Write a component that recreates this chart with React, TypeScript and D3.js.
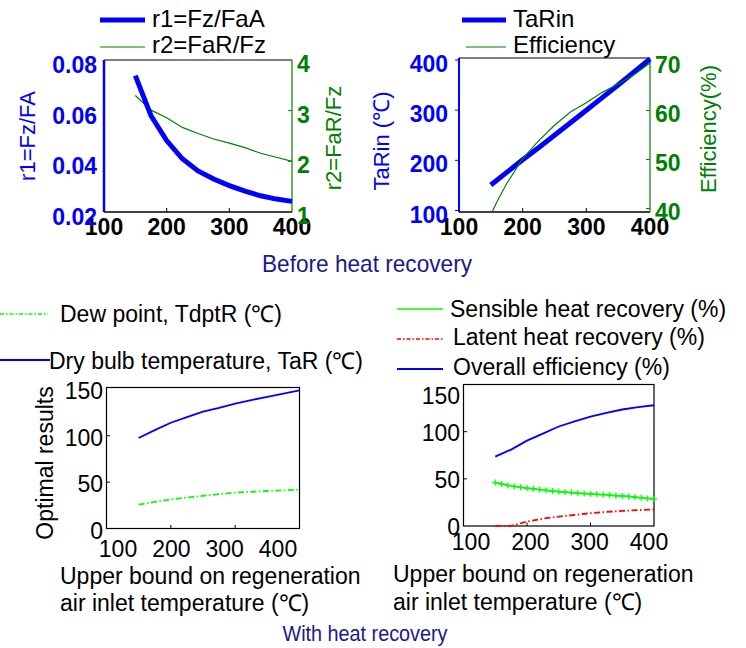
import React, { useRef, useEffect } from 'react';
import * as d3 from 'd3';

// top charts: before heat recovery
const xTop = [150, 175, 200, 225, 250, 275, 300, 325, 350, 375, 400];
const r1 = [0.0738, 0.058, 0.0482, 0.041, 0.0362, 0.033, 0.0304, 0.0282, 0.0264, 0.0251, 0.0242];
const r2 = [3.3, 3.01, 2.86, 2.67, 2.55, 2.44, 2.36, 2.27, 2.16, 2.08, 2.0];
const taRin = [151, 176, 201, 225, 250, 275, 300, 325, 350, 376, 402];
const xEff = [152, 160, 175, 200, 225, 250, 275, 300, 325, 350, 375, 400];
const efficiency = [39.3, 41.5, 45.1, 50.2, 53.8, 57.0, 59.7, 61.6, 63.7, 65.4, 67.3, 69.7];

// bottom charts: with heat recovery
const xBottom = [150, 175, 200, 225, 250, 275, 300, 325, 350, 375, 400];
const dryBulb = [97.5, 106, 114, 120, 126, 130, 134.5, 138.5, 142, 145.5, 149];
const dewPoint = [25.7, 28.7, 31.4, 33.3, 35.3, 37.0, 38.7, 39.6, 40.4, 41.1, 41.8];
const overall = [73.5, 81, 90.5, 98, 105.5, 111, 116, 120, 123.5, 126, 128];
const latent = [0, 0.2, 4.6, 7.8, 10, 11.7, 13.6, 15, 16, 16.8, 17.5];
const xSensible = [150, 160, 170, 180, 190, 200, 210, 220, 230, 240, 250, 260, 270, 280, 290, 300, 310, 320, 330, 340, 350, 360, 370, 380, 390, 400];
const sensible = [46, 44.5, 43, 42, 41, 40.2, 39.4, 38.6, 37.8, 37.1, 36.5, 35.9, 35.4, 34.9, 34.4, 34.0, 33.6, 33.2, 32.8, 32.3, 31.8, 31.3, 30.6, 29.9, 29.2, 28.5];

const xTicks = [100, 200, 300, 400];
const r1Ticks = [0.02, 0.04, 0.06, 0.08];
const r2Ticks = [1, 2, 3, 4];
const taRinTicks = [100, 200, 300, 400];
const effTicks = [40, 50, 60, 70];
const resultTicks = [0, 50, 100, 150];

const FONT = 'Liberation Sans, Arial, Helvetica, sans-serif';
const BLUE = '#0000ff';
const GREEN = '#008000';
const LIME = '#00ff00';
const RED = '#ff0000';
const NAVY = '#1a1a8c';

function App() {
  const ref = useRef<SVGSVGElement>(null);

  useEffect(() => {
    const svg = d3.select(ref.current);
    svg.selectAll('*').remove();
    svg.attr('font-family', FONT);

    const line = (sx: any, sy: any, xs: number[]) =>
      d3.line<number>().x((_, i) => sx(xs[i])).y(d => sy(d));

    const text = (x: number, y: number, s: string, size: number, fill = '#000', anchor = 'start', weight = 'normal') =>
      svg.append('text').attr('x', x).attr('y', y).attr('font-size', size).attr('fill', fill)
        .attr('text-anchor', anchor).attr('font-weight', weight).text(s);

    const vlabel = (x: number, y: number, s: string, size: number, fill: string) =>
      svg.append('text').attr('transform', `translate(${x},${y}) rotate(-90)`).attr('font-size', size)
        .attr('fill', fill).attr('text-anchor', 'middle').attr('dominant-baseline', 'central').text(s);

    const seg = (x1: number, y1: number, x2: number, y2: number, stroke: string, w: number, dash?: string) =>
      svg.append('line').attr('x1', x1).attr('y1', y1).attr('x2', x2).attr('y2', y2)
        .attr('stroke', stroke).attr('stroke-width', w).attr('stroke-dasharray', dash || null);

    // ---------- top left ----------
    {
      const x = d3.scaleLinear().domain([100, 400]).range([104, 292]);
      const yl = d3.scaleLinear().domain([0.02, 0.08]).range([212, 60]);
      const yr = d3.scaleLinear().domain([1, 4]).range([212, 60]);
      seg(104, 60, 292, 60, '#000', 1.2);
      seg(104, 212, 292, 212, '#000', 1.5);
      seg(104, 60, 104, 212, BLUE, 2.5);
      seg(292, 60, 292, 212, GREEN, 1.2);
      [200, 300].forEach(t => seg(x(t), 212, x(t), 208, '#000', 1));
      [2, 3].forEach(t => seg(292, yr(t), 288, yr(t), GREEN, 1));
      xTicks.forEach(t => text(x(t), 235, String(t), 23, '#000', 'middle', 'bold'));
      r1Ticks.forEach(t => text(97, yl(t) + 13, d3.format('.2f')(t), 23, BLUE, 'end', 'bold'));
      r2Ticks.forEach(t => text(297, yr(t) + 12, String(t), 23, GREEN, 'start', 'bold'));
      vlabel(27, 136, 'r1=Fz/FA', 22, BLUE);
      vlabel(333, 138, 'r2=FaR/Fz', 22, GREEN);
      svg.append('path').attr('d', line(x, yr, xTop)(r2)).attr('fill', 'none').attr('stroke', GREEN).attr('stroke-width', 1.2);
      svg.append('path').attr('d', line(x, yl, xTop)(r1)).attr('fill', 'none').attr('stroke', BLUE).attr('stroke-width', 5);
      seg(100, 20, 145, 20, BLUE, 5);
      text(152, 27, 'r1=Fz/FaA', 24);
      seg(100, 47, 145, 47, GREEN, 1.2);
      text(152, 53, 'r2=FaR/Fz', 24);
    }

    // ---------- top right ----------
    {
      const x = d3.scaleLinear().domain([100, 400]).range([459, 650]);
      const yl = d3.scaleLinear().domain([100, 400]).range([210.5, 60]);
      const yr = d3.scaleLinear().domain([40, 70]).range([208.5, 61.5]);
      seg(459, 58, 650, 58, '#000', 1.2);
      seg(459, 212, 650, 212, '#000', 1.5);
      seg(459, 58, 459, 212, BLUE, 2);
      seg(650, 58, 650, 212, GREEN, 1.2);
      [200, 300].forEach(t => seg(x(t), 212, x(t), 208, '#000', 1));
      taRinTicks.forEach(t => seg(459, yl(t), 455, yl(t), BLUE, 1));
      effTicks.forEach(t => seg(650, yr(t), 646, yr(t), GREEN, 1));
      xTicks.forEach(t => text(x(t), 235, String(t), 23, '#000', 'middle', 'bold'));
      taRinTicks.forEach(t => text(448, yl(t) + 12, String(t), 23, BLUE, 'end', 'bold'));
      effTicks.forEach(t => text(655, yr(t) + 11, String(t), 23, GREEN, 'start', 'bold'));
      vlabel(381, 141, 'TaRin (℃)', 22, BLUE);
      vlabel(708, 129, 'Efficiency(%)', 22, GREEN);
      svg.append('path').attr('d', line(x, yl, xTop)(taRin)).attr('fill', 'none').attr('stroke', BLUE).attr('stroke-width', 5);
      svg.append('path').attr('d', line(x, yr, xEff)(efficiency)).attr('fill', 'none').attr('stroke', GREEN).attr('stroke-width', 1.2);
      seg(462, 20, 506, 20, BLUE, 5);
      text(513, 27, 'TaRin', 24);
      seg(466, 47, 506, 47, GREEN, 1.2);
      text(513, 53, 'Efficiency', 24);
    }

    svg.append('text').attr('x', 367).attr('y', 272).attr('font-size', 24).attr('fill', NAVY)
      .attr('text-anchor', 'middle').attr('textLength', 210).attr('lengthAdjust', 'spacingAndGlyphs')
      .text('Before heat recovery');

    // ---------- bottom left ----------
    {
      const x = d3.scaleLinear().domain([100, 400]).range([106.5, 299.5]);
      const xl = d3.scaleLinear().domain([100, 400]).range([118, 278]);
      const y = d3.scaleLinear().domain([0, 152]).range([528.5, 387.5]);
      svg.append('rect').attr('x', 106.5).attr('y', 387.5).attr('width', 193).attr('height', 141)
        .attr('fill', 'none').attr('stroke', '#000').attr('stroke-width', 1.2);
      [200, 300].forEach(t => seg(x(t), 528.5, x(t), 525, '#000', 1));
      [50, 100].forEach(t => seg(106.5, y(t), 110, y(t), '#000', 1));
      xTicks.forEach(t => text(xl(t), 557, String(t), 23, '#000', 'middle'));
      resultTicks.forEach(t => text(103, y(t) + 10, String(t), 23, '#000', 'end'));
      vlabel(45, 463, 'Optimal results', 23, '#000');
      svg.append('path').attr('d', line(x, y, xBottom)(dryBulb)).attr('fill', 'none').attr('stroke', BLUE).attr('stroke-width', 1.8);
      svg.append('path').attr('d', line(x, y, xBottom)(dewPoint)).attr('fill', 'none').attr('stroke', LIME)
        .attr('stroke-width', 1.8).attr('stroke-dasharray', '6,2.5,1.5,2.5');
      seg(0, 314, 48, 314, LIME, 1.5, '4,2,1.5,2');
      text(60, 322, 'Dew point, TdptR (℃)', 23);
      seg(0, 360, 50, 360, BLUE, 1.8);
      text(49, 369, 'Dry bulb temperature, TaR (℃)', 23);
      text(60, 584, 'Upper bound on regeneration', 23);
      text(60, 611, 'air inlet temperature (℃)', 23);
    }

    // ---------- bottom right ----------
    {
      const x = d3.scaleLinear().domain([100, 400]).range([463.5, 654]);
      const xl = d3.scaleLinear().domain([100, 400]).range([471, 649]);
      const y = d3.scaleLinear().domain([0, 150]).range([526, 384.5]);
      svg.append('rect').attr('x', 463.5).attr('y', 384.5).attr('width', 190.5).attr('height', 141.5)
        .attr('fill', 'none').attr('stroke', '#000').attr('stroke-width', 1.2);
      [200, 300].forEach(t => seg(x(t), 526, x(t), 522.5, '#000', 1));
      [50, 100].forEach(t => seg(463.5, y(t), 467, y(t), '#000', 1));
      xTicks.forEach(t => text(xl(t), 550, String(t), 23, '#000', 'middle'));
      resultTicks.forEach(t => text(460, y(t) + (t === 150 ? 19 : 9), String(t), 23, '#000', 'end'));
      svg.append('path').attr('d', line(x, y, xBottom)(overall)).attr('fill', 'none').attr('stroke', BLUE).attr('stroke-width', 1.8);
      svg.append('path').attr('d', line(x, y, xBottom)(latent)).attr('fill', 'none').attr('stroke', RED)
        .attr('stroke-width', 1.8).attr('stroke-dasharray', '6,2.5,1.5,2.5');
      svg.append('path').attr('d', line(x, y, xSensible)(sensible)).attr('fill', 'none').attr('stroke', LIME).attr('stroke-width', 1.8);
      svg.append('path')
        .attr('d', sensible.map((v, i) => {
          const px = x(xSensible[i]), py = y(v);
          return `M${px - 3},${py}H${px + 3}M${px},${py - 3}V${py + 3}`;
        }).join(''))
        .attr('stroke', LIME).attr('stroke-width', 1.3);
      seg(397, 309, 443, 309, LIME, 1.5);
      text(450, 317, 'Sensible heat recovery (%)', 23);
      seg(397, 339, 443, 339, RED, 1.5, '4,2,1.5,2');
      text(453, 345, 'Latent heat recovery (%)', 23);
      seg(397, 369, 443, 369, BLUE, 1.8);
      text(453, 375, 'Overall efficiency (%)', 23);
      text(393, 582, 'Upper bound on regeneration', 23);
      text(393, 610, 'air inlet temperature (℃)', 23);
    }

    svg.append('text').attr('x', 365).attr('y', 641).attr('font-size', 22).attr('fill', NAVY)
      .attr('text-anchor', 'middle').attr('textLength', 165).attr('lengthAdjust', 'spacingAndGlyphs')
      .text('With heat recovery');
  }, []);

  return (
    <svg ref={ref} width={746} height={648} style={{ position: 'absolute', left: 0, top: 0, background: '#fff' }} />
  );
}

export default App;
